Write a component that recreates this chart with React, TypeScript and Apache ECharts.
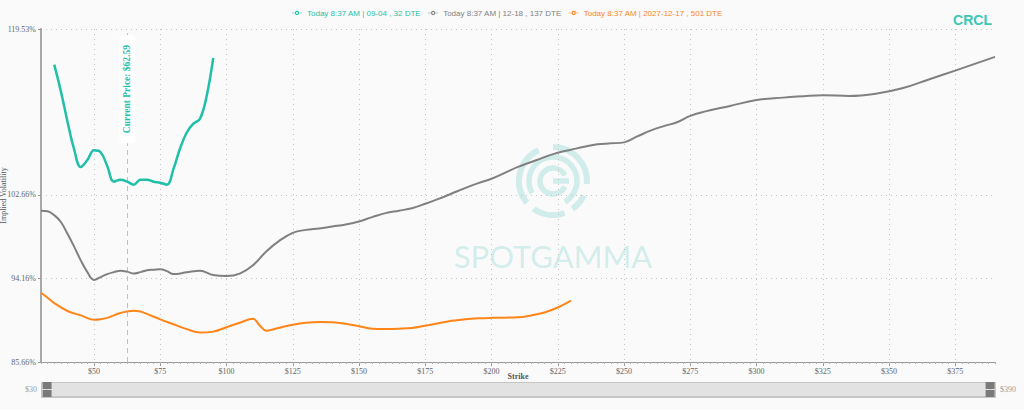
import React, { useEffect, useRef } from "react";
import * as echarts from "echarts";

const seriesNames = [
  "Today 8:37 AM | 09-04 , 32 DTE",
  "Today 8:37 AM | 12-18 , 137 DTE",
  "Today 8:37 AM | 2027-12-17 , 501 DTE",
];
const seriesColors = ["#1fbfa8", "#808080", "#ff8519"];
const ticker = "CRCL";
const currentPrice = 62.59;

const strikesSep = [35, 37.5, 40, 42.5, 45, 47.5, 50, 52.5, 55, 57.5, 60, 62.5, 65, 67.5, 70, 72.5, 75, 77.5, 80, 82.5, 85, 87.5, 90, 92.5, 95];
const ivSep = [115.9, 113.2, 110.1, 107.3, 105.5, 106.2, 107.2, 107.0, 105.6, 104.0, 104.2, 104.0, 103.7, 104.2, 104.2, 104.0, 103.9, 103.7, 105.3, 107.4, 109.0, 109.9, 110.4, 112.7, 116.6];

const strikesDec = [30, 32.5, 35, 37.5, 40, 42.5, 45, 47.5, 50, 52.5, 55, 57.5, 60, 62.5, 65, 67.5, 70, 72.5, 75, 77.5, 80, 85, 90, 95, 100, 105, 110, 115, 120, 125, 130, 135, 140, 145, 150, 155, 160, 165, 170, 175, 180, 185, 190, 195, 200, 205, 210, 215, 220, 225, 230, 235, 240, 245, 250, 255, 260, 265, 270, 275, 280, 290, 300, 310, 320, 325, 335, 345, 355, 365, 375, 390];
const ivDec = [101.05, 101.0, 100.6, 99.9, 98.7, 97.4, 96.0, 94.8, 94.0, 94.3, 94.6, 94.8, 94.95, 94.85, 94.65, 94.8, 95.0, 95.05, 95.1, 94.9, 94.6, 94.78, 94.95, 94.5, 94.4, 94.65, 95.5, 96.9, 98.0, 98.8, 99.1, 99.25, 99.45, 99.65, 99.95, 100.4, 100.8, 101.05, 101.3, 101.75, 102.25, 102.8, 103.35, 103.85, 104.3, 104.9, 105.5, 106.0, 106.5, 106.95, 107.25, 107.55, 107.8, 107.9, 108.0, 108.6, 109.2, 109.65, 110.05, 110.7, 111.1, 111.7, 112.3, 112.55, 112.75, 112.8, 112.72, 112.95, 113.5, 114.4, 115.3, 116.7];

const strikesLeap = [30, 32.5, 35, 40, 45, 50, 52.5, 55, 60, 65, 67.5, 70, 75, 80, 85, 90, 95, 100, 105, 110, 112.5, 115, 120, 125, 130, 135, 140, 145, 150, 155, 160, 165, 170, 175, 180, 185, 190, 195, 200, 205, 210, 215, 220, 225, 230];
const ivLeap = [92.7, 92.2, 91.65, 90.85, 90.4, 89.95, 90.0, 90.15, 90.65, 90.88, 90.8, 90.55, 90.0, 89.5, 89.0, 88.65, 88.75, 89.2, 89.65, 90.05, 89.4, 88.85, 89.15, 89.45, 89.65, 89.72, 89.7, 89.55, 89.3, 89.05, 89.02, 89.05, 89.12, 89.35, 89.6, 89.85, 90.0, 90.1, 90.15, 90.17, 90.2, 90.4, 90.7, 91.2, 91.9];

const yTicks = [85.66, 94.16, 102.66, 119.53];
const xTicks = [50, 75, 100, 125, 150, 175, 200, 225, 250, 275, 300, 325, 350, 375];
const xMin = 30;
const xMax = 390;
const yMin = 85.66;
const yMax = 119.53;

const zip = (xs: number[], ys: number[]) => xs.map((x, i) => [x, ys[i]]);

const SERIF = "Liberation Serif";
const SANS = "Liberation Sans";
const WM = "rgba(40, 184, 174, 0.2)";

const LEGEND_ICON =
  "path://M0,4.5H4.3V5.5H0Z M9.7,4.5H14V5.5H9.7Z M4,5A3,3,0,1,0,10,5A3,3,0,1,0,4,5Z M5.6,5A1.4,1.4,0,1,1,8.4,5A1.4,1.4,0,1,1,5.6,5Z";

const deg = (d: number) => (d * Math.PI) / 180;

function arc(r: number, a0: number, a1: number, lw: number) {
  return {
    type: "arc",
    shape: { cx: 0, cy: 0, r, startAngle: deg(a0), endAngle: deg(a1), clockwise: true },
    style: { stroke: WM, lineWidth: lw, fill: null },
    silent: true,
  };
}

export default function App() {
  const ref = useRef<HTMLDivElement>(null);

  useEffect(() => {
    document.body.style.margin = "0";
    if (!ref.current) return;
    const chart = echarts.init(ref.current, undefined, { renderer: "svg" });
    const datasets = [zip(strikesSep, ivSep), zip(strikesDec, ivDec), zip(strikesLeap, ivLeap)];
    const widths = [2.5, 2, 2];

    const series: any[] = datasets.map((d, i) => ({
      name: seriesNames[i],
      type: "line",
      data: d,
      smooth: 0.4,
      symbol: "emptyCircle",
      showSymbol: false,
      symbolSize: 5,
      xAxisIndex: 0,
      yAxisIndex: 0,
      z: 10 - i,
      lineStyle: { color: seriesColors[i], width: widths[i] },
      itemStyle: { color: seriesColors[i] },
    }));
    series[0].markLine = {
      silent: true,
      symbol: ["none", "none"],
      lineStyle: { type: [5, 4], color: "#86dacf", width: 1 },
      label: {
        show: true,
        position: "insideEnd",
        formatter: "Current Price: $" + currentPrice.toFixed(2),
        color: "#1fbfa8",
        fontFamily: SERIF,
        fontWeight: "bold",
        fontSize: 9.5,
        backgroundColor: "#ffffff",
        padding: [3, 10],
        borderRadius: 4,
        distance: 6,
      },
      data: [{ xAxis: currentPrice }],
    };

    const gridLeft = 41;
    const gridRight = 29;
    const handleHalf = 4.5;

    const option: any = {
      animation: false,
      backgroundColor: "#fafafa",
      title: {
        text: ticker,
        right: 27,
        top: 8,
        textStyle: { color: "#3cc7b6", fontSize: 14, fontWeight: "bold", fontFamily: SANS },
      },
      legend: {
        top: 4,
        left: 287,
        icon: LEGEND_ICON,
        itemWidth: 10,
        itemHeight: 7,
        itemGap: 7,
        textStyle: { fontSize: 8, fontFamily: SANS },
        data: seriesNames.map((n, i) => ({
          name: n,
          textStyle: { color: seriesColors[i] },
          itemStyle: { color: seriesColors[i] },
        })),
      },
      grid: { left: gridLeft, right: gridRight, top: 29, bottom: 48, outerBoundsMode: "none", containLabel: false },
      xAxis: [
        {
          type: "value",
          min: xMin,
          max: xMax,
          name: "Strike",
          nameLocation: "middle",
          nameGap: 10,
          nameMoveOverlap: false,
          nameTextStyle: { fontFamily: SERIF, fontWeight: "bold", fontSize: 8, color: "#555" },
          axisLine: { show: true, lineStyle: { color: "#9a9a9a", width: 1 } },
          axisTick: { show: true, length: 4, customValues: xTicks, lineStyle: { color: "#9a9a9a" } },
          axisLabel: {
            customValues: xTicks,
            formatter: (v: number) => "$" + v,
            fontFamily: SERIF,
            fontSize: 8,
            color: "#666",
            margin: 5,
          },
          splitLine: { show: true, lineStyle: { type: [1, 4], color: "#c4c4c4" } },
        },
        {
          type: "value",
          min: xMin,
          max: xMax,
          interval: 2.5,
          position: "bottom",
          axisLine: { show: false },
          axisTick: { show: true, length: 2, lineStyle: { color: "#b0b0b0" } },
          axisLabel: { show: false },
          splitLine: { show: false },
        },
      ],
      yAxis: {
        type: "value",
        min: yMin,
        max: yMax,
        name: "Implied Volatility",
        nameLocation: "middle",
        nameGap: 34,
        nameMoveOverlap: false,
        nameTextStyle: { fontFamily: SERIF, fontSize: 8, color: "#555" },
        axisLine: { show: true, lineStyle: { color: "#a8a8a8", width: 2 } },
        axisTick: { show: true, length: 3, customValues: yTicks, lineStyle: { color: "#999" } },
        axisLabel: {
          customValues: yTicks,
          formatter: (v: number) => v.toFixed(2) + "%",
          fontFamily: SERIF,
          fontSize: 8,
          color: "#666",
          margin: 5,
        },
        splitLine: { show: true, lineStyle: { type: [1, 4], color: "#c4c4c4" } },
      },
      dataZoom: [
        {
          type: "slider",
          xAxisIndex: [0, 1],
          start: 0,
          end: 100,
          left: gridLeft + handleHalf,
          right: gridRight + handleHalf,
          bottom: 13,
          height: 15,
          backgroundColor: "#e2e2e2",
          fillerColor: "rgba(0,0,0,0)",
          borderColor: "#c6c6c6",
          showDataShadow: false,
          dataBackground: { lineStyle: { opacity: 0 }, areaStyle: { opacity: 0 } },
          selectedDataBackground: { lineStyle: { opacity: 0 }, areaStyle: { opacity: 0 } },
          handleIcon: "path://M0,0H6V10H0Z M0,4.6V5.4H6V4.6Z",
          handleSize: "100%",
          handleStyle: { color: "#7a7a7a", borderColor: "#7a7a7a", borderWidth: 0 },
          moveHandleSize: 0,
          brushSelect: false,
          showDetail: false,
        },
      ],
      graphic: [
        {
          type: "rect",
          left: gridLeft,
          top: 410 - 13 - 15,
          silent: true,
          z: -1,
          shape: { width: 1024 - gridLeft - gridRight, height: 15 },
          style: { fill: "#e2e2e2", stroke: "#c6c6c6", lineWidth: 1 },
        },
        {
          type: "text",
          right: 1024 - gridLeft + 4,
          top: 385,
          silent: true,
          style: { text: "$" + xMin, fill: "#9a9a9a", fontFamily: SERIF, fontSize: 8 },
        },
        {
          type: "text",
          left: 1024 - gridRight + 5,
          top: 385,
          silent: true,
          style: { text: "$" + xMax, fill: "#9a9a9a", fontFamily: SERIF, fontSize: 8 },
        },
        {
          type: "group",
          x: 553,
          y: 181,
          silent: true,
          z: 0,
          children: [
            arc(34, -90, 5, 6),
            arc(34, 25, 55, 6),
            arc(34, 70, 125, 6),
            arc(34, 140, 245, 6),
            arc(24, -70, 60, 5.5),
            arc(24, 150, 290, 5.5),
            arc(13, 25, 335, 5.5),
            {
              type: "line",
              shape: { x1: 0, y1: 0, x2: 16, y2: 0 },
              style: { stroke: WM, lineWidth: 5.5 },
              silent: true,
            },
          ],
        },
        {
          type: "text",
          x: 553,
          y: 256,
          silent: true,
          z: 0,
          style: {
            text: "SPOTGAMMA",
            fill: WM,
            fontFamily: "Lato",
            fontWeight: "normal",
            fontSize: 31,
            align: "center",
            verticalAlign: "middle",
          },
        },
      ],
      series,
    };

    chart.setOption(option);
    return () => chart.dispose();
  }, []);

  return <div ref={ref} style={{ width: 1024, height: 410 }} />;
}
